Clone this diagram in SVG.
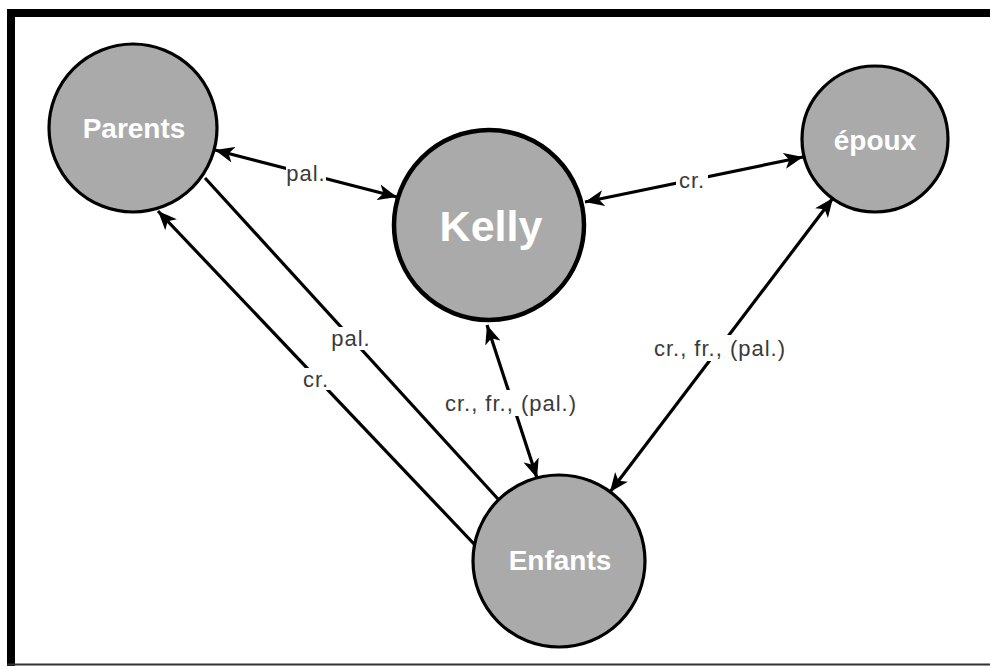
<svg xmlns="http://www.w3.org/2000/svg" width="990" height="666" viewBox="0 0 990 666">
<style>
.node{fill:#aaaaaa;stroke:#000;stroke-width:3.2}
.nl{font-family:"Liberation Sans",Arial,sans-serif;font-weight:bold;fill:#fff;text-anchor:middle;font-size:28px}
.edge{stroke:#000;stroke-width:3.2;fill:none}
.lbl{font-family:"Liberation Sans",Arial,sans-serif;font-size:22px;letter-spacing:1px;fill:#3a3a3a;text-anchor:middle;dominant-baseline:central}
.bg{fill:#fff}
</style>
<defs>
<marker id="ah" markerUnits="userSpaceOnUse" markerWidth="20" markerHeight="16" refX="19" refY="8" orient="auto-start-reverse" viewBox="0 0 20 16">
<path d="M0,0 L19,8 L0,16 L5,8 Z" fill="#000"/>
</marker>
</defs>
<rect x="0" y="0" width="990" height="666" fill="#fff"/>
<g id="frame">
<rect x="7" y="9" width="983" height="8" fill="#000"/>
<rect x="7" y="9" width="8" height="657" fill="#000"/>
<line x1="7" y1="664.5" x2="990" y2="664.5" stroke="#333" stroke-width="2"/>
</g>
<g id="node-parents">
<circle class="node" cx="133" cy="128" r="84"/>
<text class="nl" x="134" y="138">Parents</text>
</g>
<g id="node-kelly">
<circle class="node" cx="489" cy="225" r="95" style="stroke-width:4.5"/>
<text class="nl" x="491" y="241" style="font-size:43px">Kelly</text>
</g>
<g id="node-epoux">
<circle class="node" cx="875" cy="139" r="73"/>
<text class="nl" x="875" y="150">époux</text>
</g>
<g id="node-enfants">
<circle class="node" cx="559" cy="561" r="86"/>
<text class="nl" x="560" y="570">Enfants</text>
</g>
<g id="connectors">
<line class="edge" x1="215" y1="150" x2="397" y2="197" marker-start="url(#ah)" marker-end="url(#ah)"/>
<line class="edge" x1="585" y1="202" x2="803" y2="157" marker-start="url(#ah)" marker-end="url(#ah)"/>
<line class="edge" x1="487" y1="325" x2="537" y2="478" marker-start="url(#ah)" marker-end="url(#ah)"/>
<line class="edge" x1="833" y1="198" x2="610" y2="492" marker-start="url(#ah)" marker-end="url(#ah)"/>
<line class="edge" x1="205" y1="178" x2="498" y2="499"/>
<line class="edge" x1="475" y1="545" x2="158" y2="211" marker-end="url(#ah)"/>
<rect class="bg" x="286" y="162" width="40" height="23"/>
<text class="lbl" x="306" y="173">pal.</text>
<rect class="bg" x="676" y="170" width="32" height="22"/>
<text class="lbl" x="692" y="180">cr.</text>
<rect class="bg" x="441" y="390" width="140" height="26"/>
<text class="lbl" x="511" y="403">cr., fr., (pal.)</text>
<rect class="bg" x="650" y="335" width="140" height="26"/>
<text class="lbl" x="720" y="348">cr., fr., (pal.)</text>
<rect class="bg" x="331" y="327" width="40" height="23"/>
<text class="lbl" x="351" y="338">pal.</text>
<rect class="bg" x="300" y="368" width="32" height="22"/>
<text class="lbl" x="316" y="379">cr.</text>
</g>
</svg>
